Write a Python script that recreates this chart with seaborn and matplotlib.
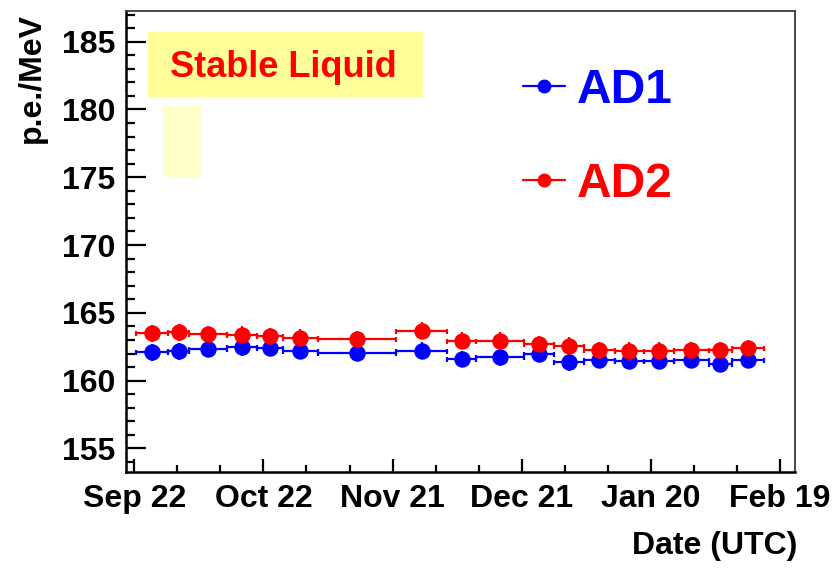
import numpy as np
import pandas as pd
import matplotlib
matplotlib.use("Agg")
import matplotlib.pyplot as plt
import matplotlib.dates as mdates
from matplotlib.ticker import FixedLocator, MultipleLocator
from matplotlib.lines import Line2D
from matplotlib.patches import Rectangle
import seaborn as sns

# ---------------- data ----------------
start_date = "2011-09-22"
# bin edges, in days after start_date
bin_edges_days = [0.5, 7.8, 12.8, 21.6, 28.5, 34.5, 42.6, 60.9, 72.6, 79.5,
                  90.5, 97.6, 104.4, 111.6, 118.4, 125.4, 133.5, 138.9, 146.3]
ad1_values = [162.08, 162.15, 162.33, 162.45, 162.40, 162.21, 162.06, 162.21, 161.60,
              161.71, 161.96, 161.35, 161.52, 161.47, 161.47, 161.52, 161.23, 161.52]
ad2_values = [163.48, 163.55, 163.43, 163.38, 163.26, 163.18, 163.07, 163.68, 162.94,
              162.94, 162.70, 162.57, 162.26, 162.21, 162.21, 162.26, 162.26, 162.40]
value_err = 0.62
detectors = ["AD1", "AD2"]
colors = {"AD1": "#0000FF", "AD2": "#FF0000"}
major_tick_labels = ["Sep 22", "Oct 22", "Nov 21", "Dec 21", "Jan 20", "Feb 19"]
major_tick_step_days = 30
minor_tick_step_days = 10
x_range_days = (-2.0, 153.5)
y_range = (153.24, 187.26)
y_ticks = [155, 160, 165, 170, 175, 180, 185]
banner_text = "Stable Liquid"
x_title = "Date (UTC)"
y_title = "p.e./MeV"

# ---------------- build table ----------------
t0 = mdates.date2num(pd.Timestamp(start_date))
edges = np.array(bin_edges_days)
mids = t0 + (edges[:-1] + edges[1:]) / 2.0
half = (edges[1:] - edges[:-1]) / 2.0
df = pd.concat([
    pd.DataFrame({"date": mids, "half": half, "value": ad1_values, "detector": "AD1"}),
    pd.DataFrame({"date": mids, "half": half, "value": ad2_values, "detector": "AD2"}),
], ignore_index=True)

# ---------------- style ----------------
sns.set_style("ticks")
plt.rcParams["font.family"] = ["Liberation Sans", "DejaVu Sans"]
plt.rcParams["font.weight"] = "bold"
plt.rcParams["axes.labelweight"] = "bold"
for k in ["text.color", "axes.labelcolor", "xtick.color", "ytick.color",
          "xtick.labelcolor", "ytick.labelcolor"]:
    plt.rcParams[k] = "black"

fig = plt.figure(figsize=(8.36, 5.71), dpi=100)
ax = fig.add_axes([0.1504, 0.1729, 0.8005, 0.8078])

z = 2
for det in detectors:
    sub = df[df["detector"] == det]
    ax.errorbar(sub["date"], sub["value"], xerr=sub["half"],
                fmt="none", ecolor=colors[det], elinewidth=1.6, capsize=1.8,
                capthick=1.6, zorder=z)
    ax.errorbar(sub["date"], sub["value"], yerr=value_err,
                fmt="none", ecolor=colors[det], elinewidth=1.6, capsize=0,
                zorder=z)
    sns.scatterplot(data=sub, x="date", y="value", color=colors[det], s=140,
                    linewidth=0, ax=ax, legend=False, zorder=z + 1)
    z += 2

# axes ranges and ticks
ax.set_xlim(t0 + x_range_days[0], t0 + x_range_days[1])
ax.set_ylim(*y_range)
major_x = [t0 + i * major_tick_step_days for i in range(len(major_tick_labels))]
ax.xaxis.set_major_locator(FixedLocator(major_x))
ax.set_xticklabels(major_tick_labels)
minor_x = [t0 + d for d in np.arange(0, x_range_days[1], minor_tick_step_days)]
ax.xaxis.set_minor_locator(FixedLocator(minor_x))
ax.yaxis.set_major_locator(FixedLocator(y_ticks))
ax.yaxis.set_minor_locator(MultipleLocator(1))

ax.tick_params(axis="both", which="both", direction="in", width=1.6, color="black",
               labelcolor="black", top=False, right=False)
ax.tick_params(axis="y", which="major", length=14.4, labelsize=23, pad=7.5)
ax.tick_params(axis="y", which="minor", length=6.5)
ax.tick_params(axis="x", which="major", length=9.4, labelsize=23, pad=8.5)
ax.tick_params(axis="x", which="minor", length=5.0)

for s in ["left", "bottom"]:
    ax.spines[s].set_linewidth(1.8)
    ax.spines[s].set_color("black")
for s in ["top", "right"]:
    ax.spines[s].set_linewidth(1.3)
    ax.spines[s].set_color("#3a3a3a")

ax.set_xlabel(x_title, fontsize=23, fontweight="bold", loc="right", color="black")
ax.set_ylabel(y_title, fontsize=23, fontweight="bold", loc="top", color="black")
ax.xaxis.set_label_coords(1.003, -0.128)
ax.yaxis.set_label_coords(-0.118, 0.996)

# banner annotations
ax.add_patch(Rectangle((0.0329, 0.8142), 0.4106, 0.1396, transform=ax.transAxes,
                       facecolor="#FFFF99", edgecolor="none", zorder=1))
ax.add_patch(Rectangle((0.0562, 0.6395), 0.0573, 0.1545, transform=ax.transAxes,
                       facecolor="#FFFFCC", edgecolor="none", zorder=1))
ax.text(0.2354, 0.8563, banner_text, transform=ax.transAxes, ha="center",
        va="baseline", fontsize=26, fontweight="bold", color="#FF0000", zorder=2)

# legend
handles = [Line2D([], [], color=colors[d], marker="o", markersize=9, lw=1.6,
                  label=d) for d in detectors]
ax.legend(handles=handles, loc="upper left", bbox_to_anchor=(0.5932, 0.8764),
          frameon=False, prop={"weight": "bold", "size": 34.5},
          labelcolor="linecolor", handlelength=0.877, handletextpad=0.25,
          labelspacing=1.02, borderpad=0, borderaxespad=0, numpoints=1)

ax.set_facecolor("white")
fig.patch.set_facecolor("white")
fig.savefig("out.png", dpi=100)
